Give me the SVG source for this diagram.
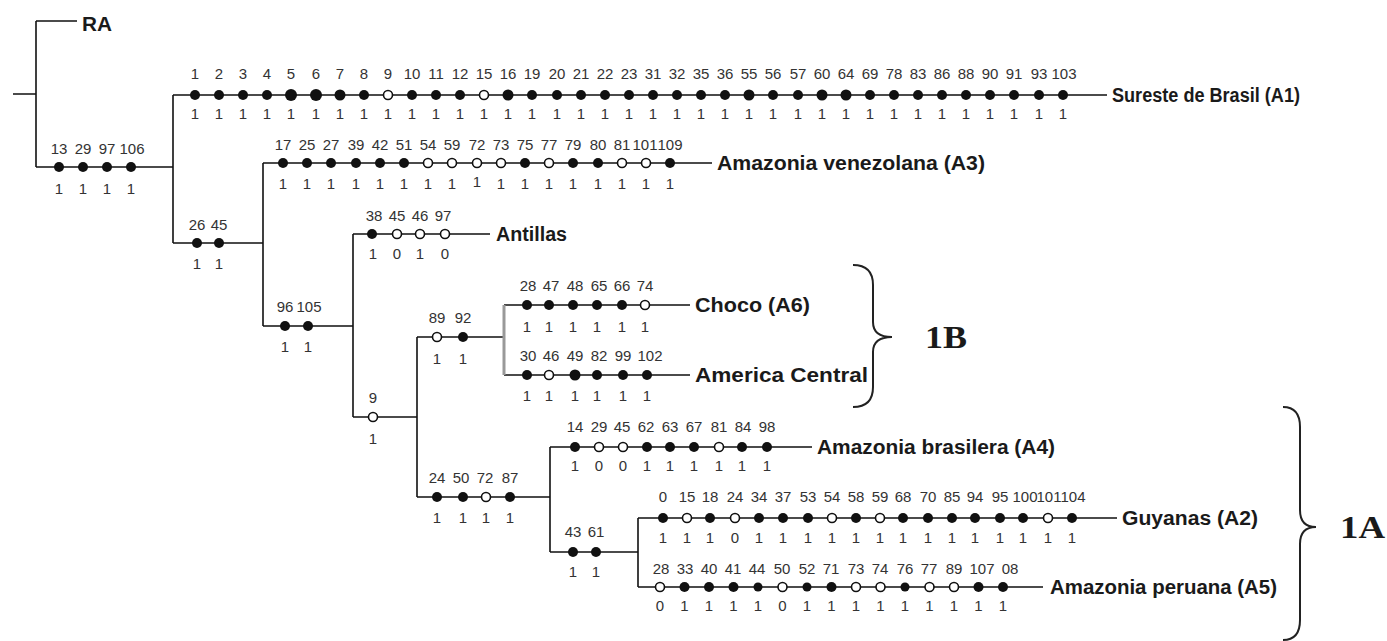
<svg xmlns="http://www.w3.org/2000/svg" width="1387" height="641" viewBox="0 0 1387 641">
<style>
.ln{stroke:#111;stroke-width:1.6;fill:none}
.gr{stroke:#999;stroke-width:3;fill:none}
.f{fill:#111}
.o{fill:#fff;stroke:#111;stroke-width:1.6}
.n{font-family:"Liberation Sans",Arial,sans-serif;font-size:15px;fill:#333;text-anchor:middle}
.t{font-family:"Liberation Sans",Arial,sans-serif;font-size:20px;font-weight:bold;fill:#1a1a1a}
.g{font-family:"Liberation Serif","Times New Roman",serif;font-size:32px;font-weight:bold;fill:#1a1a1a}
.br{stroke:#222;stroke-width:2;fill:none}
</style>
<rect width="1387" height="641" fill="#fff"/>
<g id="connectors">
<path class="ln" d="M13 94H36M36 21V167M36 21H77M36 167H173M173 95V243M173 95H1107M173 243H263M263 163V326M263 163H712M263 326H353M353 234V417M353 234H490M353 417H417M417 337V497M417 337H504M504 305H690M504 375H690M417 497H550M550 447V552M550 447H812M550 552H638M638 518V587M638 518H1117M638 587H1043"/>
<path class="gr" d="M504 305V375"/>
</g>
<g id="RA"><text class="t" x="82" y="31" textLength="30" lengthAdjust="spacingAndGlyphs">RA</text></g>
<g id="root">
<circle class="f" cx="59" cy="167" r="5"/><circle class="f" cx="83" cy="167" r="5"/><circle class="f" cx="107" cy="167" r="5"/><circle class="f" cx="131" cy="167" r="5"/>
<text class="n" x="59" y="154">13</text><text class="n" x="83" y="154">29</text><text class="n" x="107" y="154">97</text><text class="n" x="132" y="154">106</text>
<text class="n" x="59" y="194">1</text><text class="n" x="83" y="194">1</text><text class="n" x="107" y="194">1</text><text class="n" x="131" y="194">1</text>
</g>
<g id="A1">
<circle class="f" cx="195" cy="95" r="5"/><circle class="f" cx="219" cy="95" r="5"/><circle class="f" cx="243" cy="95" r="5"/><circle class="f" cx="267" cy="95" r="5"/><circle class="f" cx="291" cy="95" r="6"/><circle class="f" cx="316" cy="95" r="6"/><circle class="f" cx="340" cy="95" r="5.5"/><circle class="f" cx="364" cy="95" r="5"/><circle class="o" cx="388" cy="95" r="4.5"/><circle class="f" cx="412" cy="95" r="5"/><circle class="f" cx="436" cy="95" r="5"/><circle class="f" cx="460" cy="95" r="5"/><circle class="o" cx="484" cy="95" r="4.5"/><circle class="f" cx="508" cy="95" r="5.5"/><circle class="f" cx="532" cy="95" r="5"/><circle class="f" cx="557" cy="95" r="5"/><circle class="f" cx="581" cy="95" r="5"/><circle class="f" cx="605" cy="95" r="5"/><circle class="f" cx="629" cy="95" r="5"/><circle class="f" cx="653" cy="95" r="5"/><circle class="f" cx="677" cy="95" r="5"/><circle class="f" cx="701" cy="95" r="5"/><circle class="f" cx="725" cy="95" r="5"/><circle class="f" cx="749" cy="95" r="5.5"/><circle class="f" cx="773" cy="95" r="5"/><circle class="f" cx="798" cy="95" r="5"/><circle class="f" cx="822" cy="95" r="5.5"/><circle class="f" cx="846" cy="95" r="5.5"/><circle class="f" cx="870" cy="95" r="5"/><circle class="f" cx="894" cy="95" r="5"/><circle class="f" cx="918" cy="95" r="5"/><circle class="f" cx="942" cy="95" r="5"/><circle class="f" cx="966" cy="95" r="5"/><circle class="f" cx="990" cy="95" r="5"/><circle class="f" cx="1014" cy="95" r="5"/><circle class="f" cx="1039" cy="95" r="5"/><circle class="f" cx="1063" cy="95" r="5"/>
<text class="n" x="195" y="79">1</text><text class="n" x="219" y="79">2</text><text class="n" x="243" y="79">3</text><text class="n" x="267" y="79">4</text><text class="n" x="291" y="79">5</text><text class="n" x="316" y="79">6</text><text class="n" x="340" y="79">7</text><text class="n" x="364" y="79">8</text><text class="n" x="388" y="79">9</text><text class="n" x="412" y="79">10</text><text class="n" x="436" y="79">11</text><text class="n" x="460" y="79">12</text><text class="n" x="484" y="79">15</text><text class="n" x="508" y="79">16</text><text class="n" x="532" y="79">19</text><text class="n" x="557" y="79">20</text><text class="n" x="581" y="79">21</text><text class="n" x="605" y="79">22</text><text class="n" x="629" y="79">23</text><text class="n" x="653" y="79">31</text><text class="n" x="677" y="79">32</text><text class="n" x="701" y="79">35</text><text class="n" x="725" y="79">36</text><text class="n" x="749" y="79">55</text><text class="n" x="773" y="79">56</text><text class="n" x="798" y="79">57</text><text class="n" x="822" y="79">60</text><text class="n" x="846" y="79">64</text><text class="n" x="870" y="79">69</text><text class="n" x="894" y="79">78</text><text class="n" x="918" y="79">83</text><text class="n" x="942" y="79">86</text><text class="n" x="966" y="79">88</text><text class="n" x="990" y="79">90</text><text class="n" x="1014" y="79">91</text><text class="n" x="1039" y="79">93</text><text class="n" x="1064" y="79">103</text>
<text class="n" x="195" y="119">1</text><text class="n" x="219" y="119">1</text><text class="n" x="243" y="119">1</text><text class="n" x="267" y="119">1</text><text class="n" x="291" y="119">1</text><text class="n" x="316" y="119">1</text><text class="n" x="340" y="119">1</text><text class="n" x="364" y="119">1</text><text class="n" x="388" y="119">1</text><text class="n" x="412" y="119">1</text><text class="n" x="436" y="119">1</text><text class="n" x="460" y="119">1</text><text class="n" x="484" y="119">1</text><text class="n" x="508" y="119">1</text><text class="n" x="532" y="119">1</text><text class="n" x="557" y="119">1</text><text class="n" x="581" y="119">1</text><text class="n" x="605" y="119">1</text><text class="n" x="629" y="119">1</text><text class="n" x="653" y="119">1</text><text class="n" x="677" y="119">1</text><text class="n" x="701" y="119">1</text><text class="n" x="725" y="119">1</text><text class="n" x="749" y="119">1</text><text class="n" x="773" y="119">1</text><text class="n" x="798" y="119">1</text><text class="n" x="822" y="119">1</text><text class="n" x="846" y="119">1</text><text class="n" x="870" y="119">1</text><text class="n" x="894" y="119">1</text><text class="n" x="918" y="119">1</text><text class="n" x="942" y="119">1</text><text class="n" x="966" y="119">1</text><text class="n" x="990" y="119">1</text><text class="n" x="1014" y="119">1</text><text class="n" x="1039" y="119">1</text><text class="n" x="1063" y="119">1</text>
<text class="t" x="1112" y="102" textLength="188" lengthAdjust="spacingAndGlyphs">Sureste de Brasil (A1)</text>
</g>
<g id="n2645">
<circle class="f" cx="197" cy="243" r="5"/><circle class="f" cx="219" cy="243" r="5"/>
<text class="n" x="197" y="230">26</text><text class="n" x="219" y="230">45</text>
<text class="n" x="197" y="269">1</text><text class="n" x="219" y="269">1</text>
</g>
<g id="A3">
<circle class="f" cx="283" cy="163" r="5"/><circle class="f" cx="307" cy="163" r="5"/><circle class="f" cx="331" cy="163" r="5"/><circle class="f" cx="356" cy="163" r="5"/><circle class="f" cx="380" cy="163" r="5"/><circle class="f" cx="404" cy="163" r="5"/><circle class="o" cx="428" cy="163" r="4.5"/><circle class="o" cx="452" cy="163" r="4.5"/><circle class="o" cx="477" cy="163" r="4.5"/><circle class="o" cx="501" cy="163" r="4.5"/><circle class="f" cx="525" cy="163" r="5"/><circle class="o" cx="549" cy="163" r="4.5"/><circle class="f" cx="573" cy="163" r="5"/><circle class="f" cx="598" cy="163" r="5"/><circle class="o" cx="622" cy="163" r="4.5"/><circle class="o" cx="646" cy="163" r="4.5"/><circle class="f" cx="670" cy="163" r="5"/>
<text class="n" x="283" y="150">17</text><text class="n" x="307" y="150">25</text><text class="n" x="331" y="150">27</text><text class="n" x="356" y="150">39</text><text class="n" x="380" y="150">42</text><text class="n" x="404" y="150">51</text><text class="n" x="428" y="150">54</text><text class="n" x="452" y="150">59</text><text class="n" x="477" y="150">72</text><text class="n" x="501" y="150">73</text><text class="n" x="525" y="150">75</text><text class="n" x="549" y="150">77</text><text class="n" x="573" y="150">79</text><text class="n" x="598" y="150">80</text><text class="n" x="622" y="150">81</text><text class="n" x="645" y="150">101</text><text class="n" x="670" y="150">109</text>
<text class="n" x="283" y="189">1</text><text class="n" x="307" y="189">1</text><text class="n" x="331" y="189">1</text><text class="n" x="356" y="189">1</text><text class="n" x="380" y="189">1</text><text class="n" x="404" y="189">1</text><text class="n" x="428" y="189">1</text><text class="n" x="452" y="189">1</text><text class="n" x="477" y="187">1</text><text class="n" x="501" y="189">1</text><text class="n" x="525" y="189">1</text><text class="n" x="549" y="189">1</text><text class="n" x="573" y="189">1</text><text class="n" x="598" y="189">1</text><text class="n" x="622" y="189">1</text><text class="n" x="646" y="189">1</text><text class="n" x="670" y="189">1</text>
<text class="t" x="717" y="170" textLength="268" lengthAdjust="spacingAndGlyphs">Amazonia venezolana (A3)</text>
</g>
<g id="n96105">
<circle class="f" cx="285" cy="326" r="5"/><circle class="f" cx="308" cy="326" r="5"/>
<text class="n" x="285" y="312">96</text><text class="n" x="309" y="312">105</text>
<text class="n" x="285" y="352">1</text><text class="n" x="308" y="352">1</text>
</g>
<g id="Antillas">
<circle class="f" cx="372" cy="234" r="5"/><circle class="o" cx="397" cy="234" r="4.5"/><circle class="o" cx="420" cy="234" r="4.5"/><circle class="o" cx="445" cy="234" r="4.5"/>
<text class="n" x="374" y="221">38</text><text class="n" x="397" y="221">45</text><text class="n" x="420" y="221">46</text><text class="n" x="443" y="221">97</text>
<text class="n" x="373" y="259">1</text><text class="n" x="397" y="259">0</text><text class="n" x="420" y="259">1</text><text class="n" x="445" y="259">0</text>
<text class="t" x="496" y="241" textLength="71" lengthAdjust="spacingAndGlyphs">Antillas</text>
</g>
<g id="n9">
<circle class="o" cx="373" cy="417" r="4.5"/>
<text class="n" x="373" y="403">9</text><text class="n" x="373" y="444">1</text>
</g>
<g id="n8992">
<circle class="o" cx="437" cy="337" r="4.5"/><circle class="f" cx="463" cy="337" r="5"/>
<text class="n" x="437" y="323">89</text><text class="n" x="463" y="323">92</text>
<text class="n" x="437" y="364">1</text><text class="n" x="463" y="364">1</text>
</g>
<g id="Choco">
<circle class="f" cx="527" cy="305" r="5"/><circle class="f" cx="549" cy="305" r="5"/><circle class="f" cx="573" cy="305" r="5"/><circle class="f" cx="597" cy="305" r="5"/><circle class="f" cx="622" cy="305" r="5"/><circle class="o" cx="645" cy="305" r="4.5"/>
<text class="n" x="528" y="291">28</text><text class="n" x="551" y="291">47</text><text class="n" x="575" y="291">48</text><text class="n" x="599" y="291">65</text><text class="n" x="622" y="291">66</text><text class="n" x="645" y="291">74</text>
<text class="n" x="527" y="332">1</text><text class="n" x="549" y="332">1</text><text class="n" x="573" y="332">1</text><text class="n" x="597" y="332">1</text><text class="n" x="622" y="332">1</text><text class="n" x="645" y="332">1</text>
<text class="t" x="695" y="312" textLength="115" lengthAdjust="spacingAndGlyphs">Choco (A6)</text>
</g>
<g id="AmericaCentral">
<circle class="f" cx="527" cy="375" r="5"/><circle class="o" cx="549" cy="375" r="4.5"/><circle class="f" cx="575" cy="375" r="5.5"/><circle class="f" cx="597" cy="375" r="5"/><circle class="f" cx="623" cy="375" r="5"/><circle class="f" cx="647" cy="375" r="5"/>
<text class="n" x="528" y="361">30</text><text class="n" x="551" y="361">46</text><text class="n" x="575" y="361">49</text><text class="n" x="599" y="361">82</text><text class="n" x="623" y="361">99</text><text class="n" x="650" y="361">102</text>
<text class="n" x="527" y="401">1</text><text class="n" x="549" y="401">1</text><text class="n" x="575" y="401">1</text><text class="n" x="597" y="401">1</text><text class="n" x="623" y="401">1</text><text class="n" x="647" y="401">1</text>
<text class="t" x="695" y="382" textLength="173" lengthAdjust="spacingAndGlyphs">America Central</text>
</g>
<g id="n24">
<circle class="f" cx="437" cy="497" r="5"/><circle class="f" cx="463" cy="497" r="5"/><circle class="o" cx="486" cy="497" r="4.5"/><circle class="f" cx="510" cy="497" r="5"/>
<text class="n" x="437" y="483">24</text><text class="n" x="461" y="483">50</text><text class="n" x="485" y="483">72</text><text class="n" x="510" y="483">87</text>
<text class="n" x="437" y="523">1</text><text class="n" x="463" y="523">1</text><text class="n" x="486" y="523">1</text><text class="n" x="510" y="523">1</text>
</g>
<g id="A4">
<circle class="f" cx="575" cy="447" r="5"/><circle class="o" cx="599" cy="447" r="4.5"/><circle class="o" cx="623" cy="447" r="4.5"/><circle class="f" cx="647" cy="447" r="5"/><circle class="f" cx="670" cy="447" r="5"/><circle class="f" cx="694" cy="447" r="5"/><circle class="o" cx="719" cy="447" r="4.5"/><circle class="f" cx="742" cy="447" r="5"/><circle class="f" cx="767" cy="447" r="5"/>
<text class="n" x="575" y="432">14</text><text class="n" x="599" y="432">29</text><text class="n" x="622" y="432">45</text><text class="n" x="646" y="432">62</text><text class="n" x="670" y="432">63</text><text class="n" x="694" y="432">67</text><text class="n" x="719" y="432">81</text><text class="n" x="743" y="432">84</text><text class="n" x="767" y="432">98</text>
<text class="n" x="575" y="471">1</text><text class="n" x="599" y="471">0</text><text class="n" x="623" y="471">0</text><text class="n" x="647" y="471">1</text><text class="n" x="670" y="471">1</text><text class="n" x="694" y="471">1</text><text class="n" x="719" y="471">1</text><text class="n" x="742" y="471">1</text><text class="n" x="767" y="471">1</text>
<text class="t" x="817" y="454" textLength="238" lengthAdjust="spacingAndGlyphs">Amazonia brasilera (A4)</text>
</g>
<g id="n4361">
<circle class="f" cx="573" cy="552" r="5"/><circle class="f" cx="596" cy="552" r="5"/>
<text class="n" x="573" y="537">43</text><text class="n" x="596" y="537">61</text>
<text class="n" x="573" y="577">1</text><text class="n" x="596" y="577">1</text>
</g>
<g id="A2">
<circle class="f" cx="663" cy="518" r="5"/><circle class="o" cx="687" cy="518" r="4.5"/><circle class="f" cx="710" cy="518" r="5"/><circle class="o" cx="735" cy="518" r="4.5"/><circle class="f" cx="759" cy="518" r="5"/><circle class="f" cx="783" cy="518" r="5"/><circle class="f" cx="808" cy="518" r="5"/><circle class="o" cx="832" cy="518" r="4.5"/><circle class="f" cx="856" cy="518" r="5"/><circle class="o" cx="880" cy="518" r="4.5"/><circle class="f" cx="903" cy="518" r="5"/><circle class="f" cx="928" cy="518" r="5"/><circle class="f" cx="952" cy="518" r="5"/><circle class="f" cx="975" cy="518" r="5"/><circle class="f" cx="1000" cy="518" r="5"/><circle class="f" cx="1023" cy="518" r="5"/><circle class="o" cx="1048" cy="518" r="4.5"/><circle class="f" cx="1072" cy="518" r="5"/>
<text class="n" x="663" y="502">0</text><text class="n" x="687" y="502">15</text><text class="n" x="710" y="502">18</text><text class="n" x="735" y="502">24</text><text class="n" x="759" y="502">34</text><text class="n" x="783" y="502">37</text><text class="n" x="808" y="502">53</text><text class="n" x="832" y="502">54</text><text class="n" x="856" y="502">58</text><text class="n" x="880" y="502">59</text><text class="n" x="903" y="502">68</text><text class="n" x="928" y="502">70</text><text class="n" x="952" y="502">85</text><text class="n" x="975" y="502">94</text><text class="n" x="1000" y="502">95</text><text class="n" x="1025" y="502">100</text><text class="n" x="1049" y="502">101</text><text class="n" x="1073" y="502">104</text>
<text class="n" x="663" y="543">1</text><text class="n" x="687" y="543">1</text><text class="n" x="710" y="543">1</text><text class="n" x="735" y="543">0</text><text class="n" x="759" y="543">1</text><text class="n" x="783" y="543">1</text><text class="n" x="808" y="543">1</text><text class="n" x="832" y="543">1</text><text class="n" x="856" y="543">1</text><text class="n" x="880" y="543">1</text><text class="n" x="903" y="543">1</text><text class="n" x="928" y="543">1</text><text class="n" x="952" y="543">1</text><text class="n" x="975" y="543">1</text><text class="n" x="1000" y="543">1</text><text class="n" x="1023" y="543">1</text><text class="n" x="1048" y="543">1</text><text class="n" x="1072" y="543">1</text>
<text class="t" x="1122" y="525" textLength="136" lengthAdjust="spacingAndGlyphs">Guyanas (A2)</text>
</g>
<g id="A5">
<circle class="o" cx="660" cy="587" r="4.5"/><circle class="f" cx="684.5" cy="587" r="5"/><circle class="f" cx="709" cy="587" r="5"/><circle class="f" cx="733.5" cy="587" r="5"/><circle class="f" cx="758" cy="587" r="4.5"/><circle class="o" cx="782.5" cy="587" r="4.5"/><circle class="f" cx="807" cy="587" r="4.5"/><circle class="f" cx="831.5" cy="587" r="5"/><circle class="o" cx="856" cy="587" r="4.5"/><circle class="o" cx="880.5" cy="587" r="4.5"/><circle class="f" cx="905" cy="587" r="4.5"/><circle class="o" cx="929.5" cy="587" r="4.5"/><circle class="o" cx="954" cy="587" r="4.5"/><circle class="f" cx="978.5" cy="587" r="5"/><circle class="f" cx="1003" cy="587" r="5"/>
<text class="n" x="661" y="574">28</text><text class="n" x="685" y="574">33</text><text class="n" x="709" y="574">40</text><text class="n" x="733" y="574">41</text><text class="n" x="757" y="574">44</text><text class="n" x="782" y="574">50</text><text class="n" x="807" y="574">52</text><text class="n" x="831" y="574">71</text><text class="n" x="856" y="574">73</text><text class="n" x="880" y="574">74</text><text class="n" x="905" y="574">76</text><text class="n" x="929" y="574">77</text><text class="n" x="954" y="574">89</text><text class="n" x="982" y="574">107</text><text class="n" x="1010" y="574">08</text>
<text class="n" x="660" y="611">0</text><text class="n" x="684.5" y="611">1</text><text class="n" x="709" y="611">1</text><text class="n" x="733.5" y="611">1</text><text class="n" x="758" y="611">1</text><text class="n" x="782.5" y="611">0</text><text class="n" x="807" y="611">1</text><text class="n" x="831.5" y="611">1</text><text class="n" x="856" y="611">1</text><text class="n" x="880.5" y="611">1</text><text class="n" x="905" y="611">1</text><text class="n" x="929.5" y="611">1</text><text class="n" x="954" y="611">1</text><text class="n" x="978.5" y="611">1</text><text class="n" x="1003" y="611">1</text>
<text class="t" x="1050" y="594" textLength="227" lengthAdjust="spacingAndGlyphs">Amazonia peruana (A5)</text>
</g>
<g id="group1B">
<path class="br" d="M853 265C866 265 873 272 873 285V322C873 332 879 337 892 337C879 337 873 342 873 352V387C873 400 866 407 853 407"/>
<text class="g" x="925" y="348" textLength="42" lengthAdjust="spacingAndGlyphs">1B</text>
</g>
<g id="group1A">
<path class="br" d="M1283 407C1294 407 1300 414 1300 427V510C1300 521 1305 527 1316 527C1305 527 1300 533 1300 544V620C1300 633 1294 640 1283 640"/>
<text class="g" x="1340" y="538" textLength="45" lengthAdjust="spacingAndGlyphs">1A</text>
</g>
</svg>
